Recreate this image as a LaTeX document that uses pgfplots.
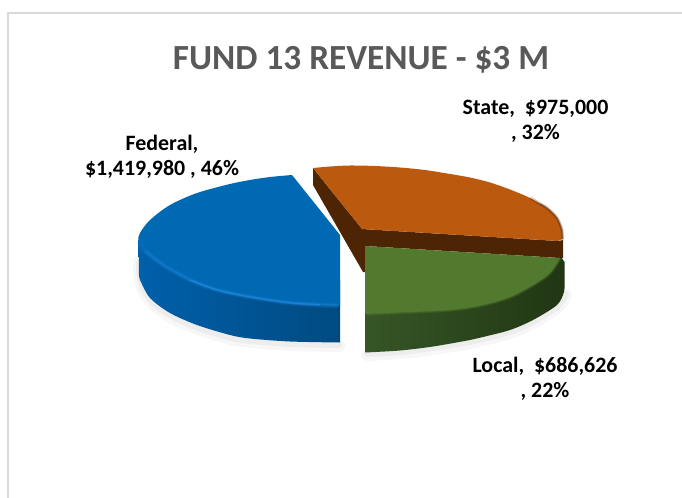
\documentclass[border=0pt]{standalone}
\usepackage{pgfplots}
\pgfplotsset{compat=1.18}
\usepackage{fontspec}
\setmainfont{Carlito}
\definecolor{bluetop}{HTML}{0069B4}
\definecolor{bluehi}{HTML}{2A96F0}
\definecolor{bluewallA}{HTML}{0060AA}
\definecolor{bluewallB}{HTML}{005A9E}
\definecolor{bluewallC}{HTML}{004A80}
\definecolor{orangetop}{HTML}{BB590F}
\definecolor{brownface}{HTML}{4E2504}
\definecolor{greentop}{HTML}{517A2F}
\definecolor{greenwallA}{HTML}{365626}
\definecolor{greenwallB}{HTML}{213614}
\definecolor{framegray}{HTML}{D9D9D9}
\definecolor{titlegray}{HTML}{595959}
\begin{document}
\begin{tikzpicture}
\begin{axis}[
  scale only axis, width=682bp, height=498bp,
  xmin=0, xmax=682, ymin=0, ymax=498, y dir=reverse,
  hide axis, clip=true]
% page background
\addplot[draw=none, fill=white] coordinates {(0,0) (682,0) (682,498) (0,498)} --cycle;
% frame
\addplot[framegray, line width=2bp] coordinates {(8,498) (8,13) (682,13)};
% soft shadow
\addplot[draw=black, opacity=0.03, line width=12bp, line cap=round, smooth] coordinates {(139,262) (141,284) (151,302) (171,317) (198,329) (231,339) (251,342) (291,345) (339,346)};
\addplot[draw=black, opacity=0.04, line width=6bp, line cap=round, smooth] coordinates {(139,262) (141,283) (151,301) (171,316) (198,328) (231,338) (251,341) (291,344) (339,345)};
\addplot[draw=black, opacity=0.03, line width=12bp, line cap=round, smooth] coordinates {(367,355) (400,353) (433,349) (470,343) (510,333) (533,323) (557,308) (566,295)};
\addplot[draw=black, opacity=0.04, line width=6bp, line cap=round, smooth] coordinates {(367,354) (400,352) (433,348) (470,342) (510,332) (533,322) (557,307) (566,294)};
% brown cut faces of State
\addplot[draw=none, fill=brownface] coordinates {(313,168) (313,185) (363,272) (365,272) (365,246) (560,258) (563,258) (563,240) (558,241) (362,229)} --cycle;
% State top
\addplot[draw=none, fill=orangetop, smooth] coordinates {(313,168) (330,166.5) (350,165.5) (375,166) (400,167.5) (425,170) (450,174) (470,177.5) (490,182.5) (510,189.5) (530,198) (547,208) (557,218) (562,230) (562.5,239)} -- (558,241) -- (362,229) -- cycle;
% State edge darkening
\addplot[brownface, opacity=0.25, line width=3bp, smooth] coordinates {(530,198) (547,208) (557,218) (562,230) (562.5,239)};
\addplot[brownface, opacity=0.35, line width=1.5bp, smooth] coordinates {(540,204) (547,208) (557,218) (562,230) (562.5,240)};
% Local wall
\addplot[draw=none, left color=greenwallA, middle color=greenwallB, right color=greenwallB, smooth] coordinates {(365,352.5) (400,350.5) (433,346.5) (470,340) (483,337) (510,330) (533,320) (557,305) (564,292) (564.5,285)} -- (564.5,262) -- (561,257) -- (365,280) -- cycle;
% Local top
\addplot[draw=none, fill=greentop, smooth] coordinates {(560,258) (550,273) (533,285) (510,297) (483,305) (450,310) (400,312.5) (365,314)} -- (365,246) -- cycle;
% Local rim blur
\addplot[greentop, opacity=0.3, line width=3.5bp, smooth] coordinates {(560,258) (550,273) (533,285) (510,297) (483,305) (450,310) (400,312.5) (366.5,314)};
\addplot[greentop, opacity=0.35, line width=1.5bp, smooth] coordinates {(560,258) (550,273) (533,285) (510,297) (483,305) (450,310) (400,312.5) (365.5,314)};
% Federal wall
\addplot[draw=none, left color=bluewallA, middle color=bluewallB, right color=bluewallC, smooth] coordinates {(139,275) (140.5,281) (150,298) (170,313) (197,325) (230,335) (250,338.5) (290,341.5) (340,342.5)} -- (340,280) -- (138.5,240) -- cycle;
% Federal top
\addplot[draw=none, fill=bluetop, smooth] coordinates {(292,175) (270,177) (250,180) (230,184) (197,193) (170,205) (150,220) (140,233) (138.5,241) (145,251) (163,265) (190,280) (217,290) (250,297) (290,303) (340,306)} -- (340,235) -- cycle;
% Federal rim highlight
\addplot[bluehi, opacity=0.12, line width=5bp, smooth] coordinates {(139,241) (145,251) (163,265) (190,280) (217,290) (250,297) (290,303) (337.5,306)};
\addplot[bluehi, opacity=0.22, line width=3bp, smooth] coordinates {(145,251) (163,265) (190,280) (217,290) (250,297) (290,303) (338.5,306)};
\addplot[bluehi, opacity=0.45, line width=1.5bp, smooth] coordinates {(190,280) (217,290) (250,297) (290,303) (320,305)};
% text
\node[font=\fontsize{35.4}{38}\selectfont\bfseries, text=titlegray, anchor=center] at (axis cs:361,60) {FUND 13 REVENUE - \$3 M};
\node[font=\fontsize{22}{25}\selectfont\bfseries, align=center, anchor=center] at (axis cs:535.5,121) {State,\ \ \$975,000\\, 32\%};
\node[font=\fontsize{22}{25}\selectfont\bfseries, align=center, anchor=center] at (axis cs:162,157) {Federal,\\\$1,419,980 , 46\%};
\node[font=\fontsize{22}{25}\selectfont\bfseries, align=center, anchor=center] at (axis cs:545,379) {Local,\ \ \$686,626\\, 22\%};
\end{axis}
\end{tikzpicture}
\end{document}
